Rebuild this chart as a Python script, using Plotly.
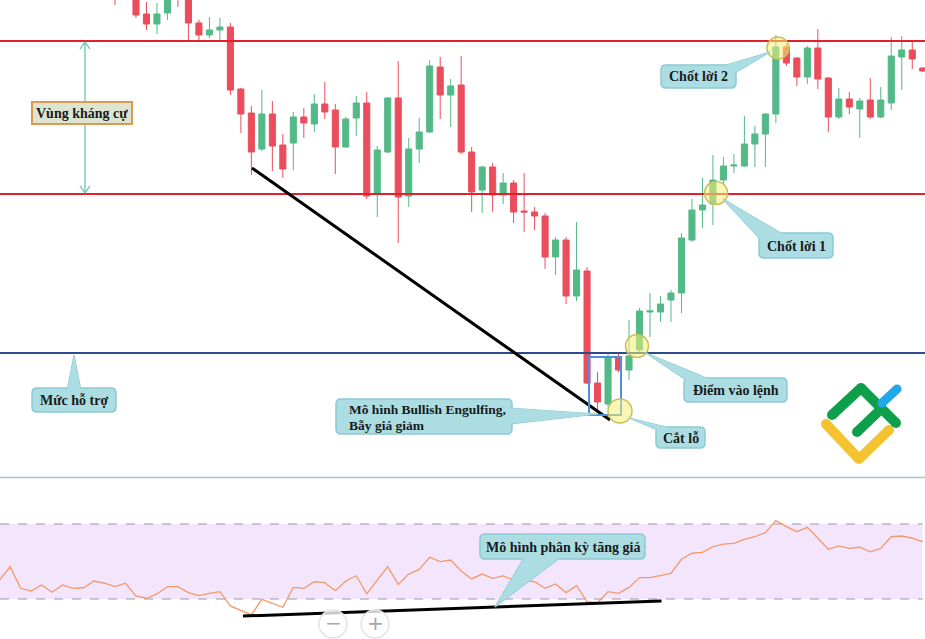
import plotly.graph_objects as go

W, H = 925, 639

# ---------------- data ----------------
idx = list(range(0, 78))
opens = [488, 490, 490, 466, 456, 467, 486, 492, 457, 445,
         450, 453, 391, 367, 331, 366, 335, 337, 363, 356,
         376, 370, 333, 362, 377, 286, 328, 382, 284, 331,
         348, 413, 385, 395, 328, 290, 313, 285, 297, 269,
         268, 264, 223, 240, 184, 209, 97, 76, 122, 110,
         130, 168, 168, 180, 187, 240, 270, 276, 300, 314,
         314, 336, 346, 366, 433, 422, 403, 432, 402, 363,
         381, 371, 380, 363, 377, 423, 430, 412]
highs = [495, 498, 496, 478, 477, 488, 492, 497, 460, 463,
         462, 457, 392, 374, 390, 379, 346, 368, 372, 386,
         398, 376, 363, 384, 388, 334, 383, 419, 342, 362,
         420, 423, 401, 424, 333, 314, 317, 307, 300, 307,
         273, 267, 243, 243, 258, 213, 108, 128, 128, 160,
         172, 187, 184, 190, 247, 281, 302, 325, 323, 326,
         364, 354, 367, 445, 436, 423, 434, 451, 403, 392,
         388, 382, 402, 393, 443, 444, 439, 413]
lows = [475, 484, 462, 450, 446, 460, 473, 440, 440, 442,
        440, 385, 347, 305, 329, 309, 302, 310, 342, 348,
        361, 306, 332, 344, 281, 263, 327, 237, 273, 317,
        347, 361, 353, 326, 268, 267, 268, 276, 257, 248,
        250, 211, 205, 176, 179, 96, 68, 73, 108, 100,
        128, 143, 158, 158, 167, 238, 252, 255, 295, 307,
        313, 313, 313, 357, 414, 394, 396, 391, 348, 361,
        366, 342, 361, 362, 370, 390, 411, 408]
closes = [484, 487, 465, 456, 466, 485, 483, 457, 445, 450,
          453, 390, 366, 328, 366, 334, 311, 363, 357, 376,
          368, 333, 361, 377, 284, 330, 382, 283, 331, 348,
          414, 385, 394, 328, 288, 313, 285, 297, 268, 268,
          264, 223, 240, 184, 210, 97, 78, 122, 110, 124,
          169, 169, 176, 187, 242, 270, 275, 300, 314, 315,
          336, 346, 366, 433, 417, 403, 432, 401, 363, 381,
          373, 379, 363, 380, 424, 430, 421, 409]

rsi_idx = list(range(-11, 78))
rsi = [40.1, 47.2, 35.7, 34.3, 37.5, 33.6, 37.5, 35.7, 36.0, 39.6, 38.4,
       36.6, 38.4, 31.6, 30.4, 32.7, 36.6, 36.6, 33.4, 31.8, 33.0,
       33.9, 26.3, 24.1, 21.5, 29.8, 27.7, 25.6, 36.2, 35.7, 39.2,
       38.7, 34.4, 39.6, 42.4, 32.7, 40.1, 47.2, 37.8, 43.3, 45.8,
       52.2, 49.9, 50.8, 44.9, 40.7, 43.3, 41.0, 42.3, 40.1, 39.8,
       39.2, 35.7, 38.0, 33.4, 37.1, 28.6, 28.0, 33.9, 33.0, 36.2,
       41.4, 41.4, 42.4, 43.7, 51.2, 54.4, 54.9, 57.9, 59.3, 59.7,
       61.8, 63.2, 65.4, 71.8, 68.6, 65.9, 68.2, 62.4, 56.5, 58.3,
       57.0, 57.6, 55.2, 57.0, 63.2, 63.6, 62.4, 60.6]

resistance_top = 439
resistance_bottom = 286
support = 127
rsi_upper, rsi_lower = 70, 30

# ---------------- geometry ----------------
XMIN = -115 / 10.49
XMAX = XMIN + W / 10.49
MAIN_DOMAIN = [1 - 477 / H, 1]
RSI_DOMAIN = [0, 1 - 479 / H]
RSI_RANGE = [30 - 40 / 1.875, 30 + 120 / 1.875]

def X(v):
    return v / W

def Y(v):
    return 1 - v / H

GREEN = "#53b987"
RED = "#eb4d5c"
FONT = "Liberation Serif"
CALL_FILL = "#acdde3"
CALL_LINE = "#8cc9d2"

fig = go.Figure()

fig.add_trace(go.Scatter(x=rsi_idx, y=rsi, mode="lines", xaxis="x", yaxis="y2",
                         line=dict(color="#f39a6b", width=1.3), hoverinfo="skip"))
fig.add_trace(go.Candlestick(x=idx, open=opens, high=highs, low=lows, close=closes,
                             xaxis="x", yaxis="y",
                             increasing=dict(line=dict(color=GREEN, width=1), fillcolor=GREEN),
                             decreasing=dict(line=dict(color=RED, width=1), fillcolor=RED),
                             whiskerwidth=0, hoverinfo="skip"))

shapes = []
annotations = []

# RSI band
shapes.append(dict(type="rect", xref="x", yref="y2", x0=XMIN, x1=77, y0=rsi_lower, y1=rsi_upper,
                   fillcolor="#f3e5fc", line=dict(width=0), layer="below"))
for lv in (rsi_lower, rsi_upper):
    shapes.append(dict(type="line", xref="x", yref="y2", x0=XMIN, x1=77, y0=lv, y1=lv,
                       line=dict(color="#9a97a6", width=1.2, dash="dash"), layer="below"))

# separator
shapes.append(dict(type="line", xref="paper", yref="paper", x0=0, x1=1, y0=Y(477.5), y1=Y(477.5),
                   line=dict(color="#b6c1ca", width=1.5)))

# levels
for lv in (resistance_top, resistance_bottom):
    shapes.append(dict(type="line", xref="paper", yref="y", x0=0, x1=1, y0=lv, y1=lv,
                       line=dict(color="#e41f2d", width=2)))
shapes.append(dict(type="line", xref="paper", yref="y", x0=0, x1=1, y0=support, y1=support,
                   line=dict(color="#2d4b8c", width=2)))

# trend lines
shapes.append(dict(type="line", xref="x", yref="y", x0=13.06, y0=312, x1=47.19, y1=60,
                   line=dict(color="#000000", width=3)))
shapes.append(dict(type="line", xref="x", yref="y2", x0=12.2, y0=20.9, x1=52.1, y1=28.9,
                   line=dict(color="#000000", width=3)))

# engulfing box
shapes.append(dict(type="rect", xref="x", yref="y", x0=45.19, x1=48.24, y0=65, y1=123,
                   line=dict(color="#4a8fe0", width=2), fillcolor="rgba(0,0,0,0)"))

# teal double arrow
ax = 85
shapes.append(dict(type="line", xref="paper", yref="paper", x0=X(ax), x1=X(ax), y0=Y(42), y1=Y(193),
                   line=dict(color="#5dbdaf", width=1.2)))
for tip, d in ((42, 1), (193, -1)):
    shapes.append(dict(type="path", xref="paper", yref="paper",
                       path=f"M {X(ax-5)},{Y(tip+7*d)} L {X(ax)},{Y(tip)} L {X(ax+5)},{Y(tip+7*d)}",
                       line=dict(color="#5dbdaf", width=1.2)))

# resistance zone label
shapes.append(dict(type="rect", xref="paper", yref="paper", x0=X(32), x1=X(132), y0=Y(124), y1=Y(102),
                   fillcolor="#dde5d2", line=dict(color="#dc9a50", width=2)))
annotations.append(dict(text="<b>Vùng kháng cự</b>", xref="paper", yref="paper", x=X(82), y=Y(113),
                        showarrow=False, xanchor="center", yanchor="middle",
                        font=dict(family=FONT, size=14, color="#1a1a1a")))

def rrect(l, t, r, b, rad=5):
    return (f"M {X(l+rad)},{Y(t)} L {X(r-rad)},{Y(t)} Q {X(r)},{Y(t)} {X(r)},{Y(t+rad)} "
            f"L {X(r)},{Y(b-rad)} Q {X(r)},{Y(b)} {X(r-rad)},{Y(b)} "
            f"L {X(l+rad)},{Y(b)} Q {X(l)},{Y(b)} {X(l)},{Y(b-rad)} "
            f"L {X(l)},{Y(t+rad)} Q {X(l)},{Y(t)} {X(l+rad)},{Y(t)} Z")

def tri(p1, p2, apex):
    return (f"M {X(p1[0])},{Y(p1[1])} L {X(apex[0])},{Y(apex[1])} "
            f"L {X(p2[0])},{Y(p2[1])} Z")

def callout(box, p1, p2, apex):
    shapes.append(dict(type="path", xref="paper", yref="paper", path=tri(p1, p2, apex),
                       fillcolor=CALL_FILL, line=dict(color=CALL_LINE, width=1.2)))
    shapes.append(dict(type="path", xref="paper", yref="paper", path=rrect(*box),
                       fillcolor=CALL_FILL, line=dict(color=CALL_LINE, width=1.5)))
    shapes.append(dict(type="path", xref="paper", yref="paper", path=tri(p1, p2, apex),
                       fillcolor=CALL_FILL, line=dict(width=0)))

def label(text, x, y, anchor="center", size=14):
    annotations.append(dict(text=f"<b>{text}</b>", xref="paper", yref="paper", x=X(x), y=Y(y),
                            showarrow=False, xanchor=anchor, yanchor="middle",
                            font=dict(family=FONT, size=size, color="#1a1a1a")))

# circles (data anchored)
def circle(cx, cy, r):
    shapes.append(dict(type="circle", xref="x", yref="y", x0=cx - r / 10.49, x1=cx + r / 10.49,
                       y0=cy - r, y1=cy + r, fillcolor="rgba(246,238,120,0.55)",
                       line=dict(color="#c7bf5c", width=1.5)))

circle(63.2, 432, 11)
circle(57.3, 287, 11.5)
circle(49.76, 134, 11.5)
circle(48.14, 69, 12)

callout((661, 65, 736, 88), (716, 68), (733, 74), (770, 52))
label("Chốt lời 2", 698.5, 77)
callout((759, 233, 833, 258), (763, 242), (786, 236), (723, 199))
label("Chốt lời 1", 796, 246)
callout((32, 388, 116, 412), (67, 391), (81, 391), (74, 355))
label("Mức hỗ trợ", 74, 400.5)
callout((336, 399, 512, 434), (509, 408), (509, 424), (598, 414))
label("Mô hình Bullish Engulfing,", 347, 409.5, "left", 13.5)
label("Bẫy giá giảm", 347, 425, "left", 13.5)
callout((656, 427, 705, 448), (660, 431), (679, 430), (629, 418))
label("Cắt lỗ", 680.5, 438)
callout((684, 378, 787, 402), (689, 382), (714, 381), (646, 353))
label("Điểm vào lệnh", 735.5, 390.5)
callout((480, 534, 645, 559), (525, 556), (562, 556), (495, 607))
label("Mô hình phân kỳ tăng giá", 562.5, 547)

# logo
def stroke(pts, color, w=9):
    for (a, b) in zip(pts[:-1], pts[1:]):
        shapes.append(dict(type="line", xref="paper", yref="paper", x0=X(a[0]), y0=Y(a[1]),
                           x1=X(b[0]), y1=Y(b[1]), line=dict(color=color, width=w)))
    for p in pts:
        rr = w / 2
        shapes.append(dict(type="circle", xref="paper", yref="paper", x0=X(p[0] - rr), x1=X(p[0] + rr),
                           y0=Y(p[1] + rr), y1=Y(p[1] - rr), fillcolor=color, line=dict(width=0)))

stroke([(826, 424), (859, 459), (889, 430)], "#f4c430", 10)
stroke([(832, 415), (861, 388), (896, 423)], "#0e9f4a", 10)
stroke([(857, 432), (880, 410)], "#0e9f4a", 10)
stroke([(882, 403), (897, 389)], "#22a8e6", 9)

# zoom buttons
for cx, sym in ((333, "−"), (375, "+")):
    shapes.append(dict(type="circle", xref="paper", yref="paper", x0=X(cx - 14), x1=X(cx + 14),
                       y0=Y(638), y1=Y(610), fillcolor="rgba(255,255,255,0.78)",
                       line=dict(color="#e2e4e6", width=1.5)))
    annotations.append(dict(text=sym, xref="paper", yref="paper", x=X(cx), y=Y(623),
                            showarrow=False, xanchor="center", yanchor="middle",
                            font=dict(family="DejaVu Sans", size=20, color="#a3a9b0")))

fig.update_layout(
    width=W, height=H,
    margin=dict(l=0, r=0, t=0, b=0),
    paper_bgcolor="white", plot_bgcolor="white",
    showlegend=False,
    boxgap=0.42, boxgroupgap=0,
    xaxis=dict(range=[XMIN, XMAX], visible=False, showgrid=False, zeroline=False,
               rangeslider=dict(visible=False), anchor="y2", fixedrange=True),
    yaxis=dict(domain=MAIN_DOMAIN, range=[3, 480], visible=False, showgrid=False,
               zeroline=False, anchor="x", fixedrange=True),
    yaxis2=dict(domain=RSI_DOMAIN, range=RSI_RANGE, visible=False, showgrid=False,
                zeroline=False, anchor="x", fixedrange=True),
    shapes=shapes,
    annotations=annotations,
    hovermode=False,
)

fig.write_html("out.html", config={"displayModeBar": False})
